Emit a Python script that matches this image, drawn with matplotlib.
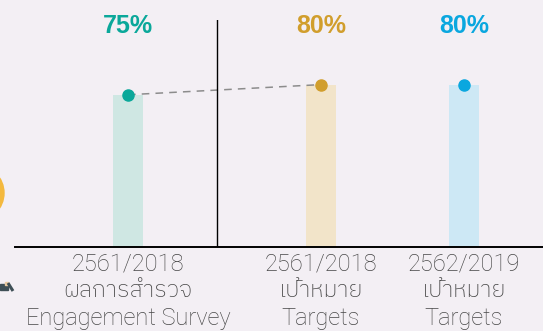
import matplotlib
matplotlib.use("Agg")
import matplotlib.pyplot as plt
from matplotlib import patches, transforms

# engagement score (%) per column
values = [75, 80, 80]
pct_labels = ["75%", "80%", "80%"]
years = ["2561/2018", "2561/2018", "2562/2019"]
thai_names = ["ผลการสำรวจ", "เป้าหมาย", "เป้าหมาย"]
eng_names = ["Engagement Survey", "Targets", "Targets"]

dot_colors = ["#0aa89a", "#d19e2c", "#0aa7df"]
bar_colors = ["#cfe7e3", "#f2e4c9", "#cde8f5"]
bg = "#f3eff4"

W, H = 543, 331
xpos = [128, 321, 464]
base_px = 247
top_px = 20
px_per_pct = 2.03

fig = plt.figure(figsize=(W / 100, H / 100), dpi=100, facecolor=bg)

# decorations that peek in from the left edge
deco = fig.add_axes([0, 0, 1, 1], zorder=-1)
deco.set_xlim(0, W)
deco.set_ylim(H, 0)
deco.axis("off")
deco.add_patch(patches.Circle((-24, 193), 28, color="#f4b93e"))
deco.add_patch(patches.Rectangle((0, 284), 8, 6, color="#3e4f56"))
deco.add_patch(patches.Rectangle((5, 282), 3, 3, color="#e9c9a0"))
deco.plot([8, 13], [283, 291], color="#3e4f56", lw=2.2, solid_capstyle="butt")

left = 15
ax = fig.add_axes([left / W, (H - base_px) / H, 1 - left / W, (base_px - top_px) / H])
ax.set_facecolor("none")
ax.set_xlim(left, W)
ax.set_ylim(0, (base_px - top_px) / px_per_pct)
for s in ax.spines.values():
    s.set_visible(False)
ax.set_xticks([])
ax.set_yticks([])

ax.bar(xpos, values, width=30, color=bar_colors, zorder=1)
ax.plot(xpos[:2], values[:2], color="#8c8c8c", lw=1.1, ls=(0, (5, 4)), zorder=2)
ax.axvline(217, color="black", lw=1.0, zorder=3)
ax.axhline(0, color="black", lw=1.4, zorder=3, clip_on=False)
for x, v, c in zip(xpos, values, dot_colors):
    ax.plot(x, v, "o", ms=8, color=c, zorder=4, clip_on=False)

label_font = ["Roboto", "IBM Plex Sans Thai", "DejaVu Sans"]
below = transforms.offset_copy(ax.transData, fig=fig, y=-5, units="dots")
for x, c, p, y, t, e in zip(xpos, dot_colors, pct_labels, years, thai_names, eng_names):
    ax.text(x, (base_px - 26) / px_per_pct, p, color=c, fontsize=18, fontweight="bold",
            family="Liberation Sans", ha="center", va="center", clip_on=False)
    ax.text(x, 0, f"{y}\n{t}\n{e}", transform=below, color="#474747", fontsize=17,
            fontweight="light", family=label_font, ha="center", va="top",
            linespacing=1.24, clip_on=False)

fig.savefig("out.png", dpi=100, facecolor=bg)
